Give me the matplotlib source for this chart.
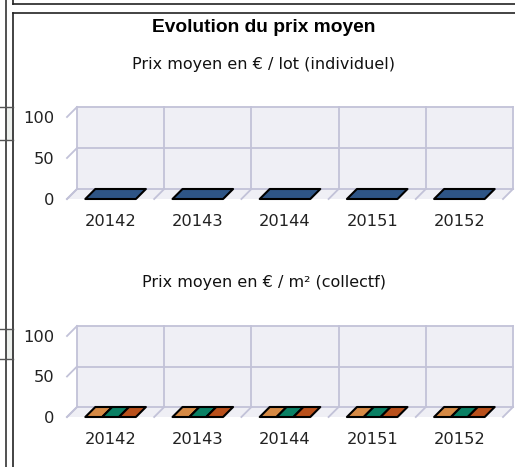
import matplotlib
matplotlib.use("Agg")
import matplotlib.pyplot as plt
from matplotlib.patches import Polygon, Rectangle
from matplotlib.lines import Line2D
from matplotlib.transforms import ScaledTranslation, IdentityTransform

periods = ["20142", "20143", "20144", "20151", "20152"]
yticks = [0, 50, 100]

# prix moyen / lot (individuel)
prix_lot = [[0, 0, 0, 0, 0]]
colors_lot = ["#2E5586"]

# prix moyen / m2 (collectif), trois séries
prix_m2 = [[0, 0, 0, 0, 0],
           [0, 0, 0, 0, 0],
           [0, 0, 0, 0, 0]]
colors_m2 = ["#D68A45", "#0A8064", "#B9501B"]

W, H = 515, 467
fig = plt.figure(figsize=(W / 100, H / 100), dpi=100)

WALL = "#EFEFF5"
GRID = "#C2C2D8"
DEPTH = 0.10  # inch, 3d offset


def px_line(x0, y0, x1, y1, **kw):
    # page decoration, in pixels from top-left
    fig.add_artist(Line2D([x0 / W, x1 / W], [1 - y0 / H, 1 - y1 / H],
                          transform=fig.transFigure, **kw))


# page frames around the chart
px_line(5.5, 0, 5.5, H, color="#333333", lw=1.2)
px_line(12.5, 0, 12.5, 4, color="#222222", lw=1.2)
px_line(12.5, 13, 12.5, H, color="#222222", lw=1.2)
px_line(12.5, 4, W, 4, color="#222222", lw=1.2)
px_line(12.5, 13, W, 13, color="#222222", lw=1.2)
for top, bot in [(107, 140), (329, 359)]:
    fig.add_artist(Rectangle((6 / W, 1 - bot / H), 6 / W, (bot - top) / H,
                             transform=fig.transFigure, fc="#EEF1EE", ec="none"))
    px_line(0, top, 5.5, top, color="#555555", lw=1)
    px_line(0, bot, 5.5, bot, color="#555555", lw=1)
    px_line(5.5, top, 12.5, top, color="#555555", lw=1)
    px_line(5.5, bot, 12.5, bot, color="#555555", lw=1)

fig.text(264 / W, 1 - 28 / H, "Evolution du prix moyen", ha="center", va="center",
         fontsize=13.8, fontweight="bold", family="Liberation Sans")


def panel(rect, subtitle, sub_y, series, colors):
    ax = fig.add_axes(rect)
    ax.set_xlim(0, len(periods))
    ax.set_ylim(0, 100)
    ax.set_facecolor("none")
    for s in ax.spines.values():
        s.set_visible(False)
    ax.set_yticks(yticks)
    ax.set_yticklabels([str(t) for t in yticks])
    ax.set_xticks([i + 0.5 for i in range(len(periods))])
    ax.set_xticklabels(periods)
    ax.tick_params(axis="y", length=0, pad=9, labelsize=11.7, labelcolor="#222222")
    ax.tick_params(axis="x", length=0, pad=11, labelsize=11.7, labelcolor="#222222")

    back = ax.transData + ScaledTranslation(DEPTH, DEPTH, fig.dpi_scale_trans)
    n = len(periods)
    # back wall and its grid
    ax.add_patch(Rectangle((0, 0), n, 100, transform=back, fc=WALL, ec="none",
                           zorder=0, clip_on=False))
    for t in yticks:
        ax.add_line(Line2D([0, n], [t, t], transform=back, color=GRID, lw=1.3,
                           zorder=1, clip_on=False))
    for i in range(n + 1):
        ax.add_line(Line2D([i, i], [0, 100], transform=back, color=GRID, lw=1.3,
                           zorder=1, clip_on=False))

    def front(x, y):
        return ax.transData.transform((x, y))

    def rear(x, y):
        return back.transform((x, y))

    # floor
    ax.add_patch(Polygon([front(0, 0), front(n, 0), rear(n, 0), rear(0, 0)],
                         transform=IdentityTransform(), fc=WALL, ec="none",
                         zorder=0, clip_on=False))
    # left wall edges and floor depth lines
    for t in yticks:
        a, b = front(0, t), rear(0, t)
        ax.add_line(Line2D([a[0], b[0]], [a[1], b[1]], transform=IdentityTransform(),
                           color=GRID, lw=1.3, zorder=1, clip_on=False))
    for i in range(n + 1):
        a, b = front(i, 0), rear(i, 0)
        ax.add_line(Line2D([a[0], b[0]], [a[1], b[1]], transform=IdentityTransform(),
                           color=GRID, lw=1.3, zorder=1, clip_on=False))

    # 3d bars
    group = 0.58
    bw = group / len(series)
    for k, (vals, c) in enumerate(zip(series, colors)):
        for i, v in enumerate(vals):
            x0 = i + 0.5 - group / 2 + k * bw
            x1 = x0 + bw
            top = [front(x0, v), front(x1, v), rear(x1, v), rear(x0, v)]
            ax.add_patch(Polygon(top, transform=IdentityTransform(), fc=c,
                                 ec="black", lw=1.5, zorder=3, joinstyle="round",
                                 clip_on=False))
            if v > 0:
                ax.add_patch(Rectangle((x0, 0), bw, v, fc=c, ec="black", lw=1.5,
                                       zorder=3, clip_on=False))
                side = [front(x1, 0), rear(x1, 0), rear(x1, v), front(x1, v)]
                ax.add_patch(Polygon(side, transform=IdentityTransform(), fc=c,
                                     ec="black", lw=1.5, zorder=3, clip_on=False))

    fig.text(264 / W, 1 - sub_y / H, subtitle, ha="center", va="center",
             fontsize=11.5, family="DejaVu Sans", color="#111111")
    return ax


panel([67 / W, 1 - 199 / H, 436 / W, 82 / H],
      "Prix moyen en € / lot (individuel)", 64, prix_lot, colors_lot)
panel([67 / W, 1 - 417 / H, 436 / W, 81 / H],
      "Prix moyen en € / m² (collectf)", 283, prix_m2, colors_m2)

fig.savefig("out.png", dpi=100)
